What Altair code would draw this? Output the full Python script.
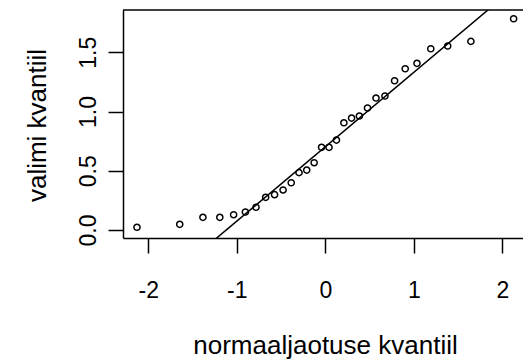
import altair as alt
import pandas as pd

# theoretical normal quantiles (n = 30)
theoretical = [-2.128, -1.645, -1.383, -1.192, -1.036, -0.903, -0.783, -0.674,
               -0.573, -0.477, -0.385, -0.297, -0.210, -0.126, -0.042,
               0.042, 0.126, 0.210, 0.297, 0.385, 0.477, 0.573, 0.674,
               0.783, 0.903, 1.036, 1.192, 1.383, 1.645, 2.128]
# sample quantiles
sample = [0.023, 0.048, 0.107, 0.107, 0.129, 0.152, 0.192, 0.276, 0.298, 0.338,
          0.399, 0.484, 0.506, 0.568, 0.698, 0.698, 0.759, 0.905, 0.945, 0.962,
          1.030, 1.114, 1.131, 1.260, 1.361, 1.407, 1.530, 1.553, 1.592, 1.783]

# reference line (qqline)
line_intercept = 0.703
line_slope = 0.628

x_ticks = [-2, -1, 0, 1, 2]
y_ticks = [0.0, 0.5, 1.0, 1.5]

x_domain = [-2.286, 2.234]
y_domain = [-0.0675, 1.857]

W, H = 400, 228
FONT = "Liberation Sans"
LABEL_SIZE = 23
TITLE_SIZE = 26

pts = pd.DataFrame({"q": theoretical, "s": sample})
line_df = pd.DataFrame({"q": x_domain,
                        "s": [line_intercept + line_slope * v for v in x_domain]})

xscale = alt.Scale(domain=x_domain, nice=False, zero=False)
yscale = alt.Scale(domain=y_domain, nice=False, zero=False)

xaxis = alt.Axis(values=x_ticks, title="normaaljaotuse kvantiil", grid=False,
                 domainColor="black", domainWidth=1.5, tickColor="black",
                 tickWidth=1.5, tickSize=15, labelPadding=44,
                 labelBaseline="alphabetic", labelFont=FONT, labelFontSize=LABEL_SIZE,
                 labelColor="black", labelFlush=False, labelOverlap=False,
                 labelExpr="'' + datum.value",
                 titleFont=FONT, titleFontSize=TITLE_SIZE, titleFontWeight="normal",
                 titleColor="black", titleBaseline="alphabetic", titleY=115,
                 titleX=W / 2 + 2, titleAlign="center")
yaxis = alt.Axis(values=y_ticks, title="valimi kvantiil", grid=False,
                 domainColor="black", domainWidth=1.5, tickColor="black",
                 tickWidth=1.5, tickSize=15, labelPadding=13, labelAngle=270,
                 labelAlign="center", labelBaseline="alphabetic",
                 labelFont=FONT, labelFontSize=LABEL_SIZE, labelColor="black",
                 labelFlush=False, labelOverlap=False, format=".1f",
                 titleFont=FONT, titleFontSize=TITLE_SIZE, titleFontWeight="normal",
                 titleColor="black", titleAngle=270, titleBaseline="alphabetic",
                 titleX=-78, titleY=H / 2 + 1, titleAlign="center")

points = alt.Chart(pts).mark_point(filled=False, color="black", size=38,
                                   strokeWidth=1.5, opacity=1).encode(
    x=alt.X("q:Q", scale=xscale, axis=xaxis),
    y=alt.Y("s:Q", scale=yscale, axis=yaxis),
)

ref = alt.Chart(line_df).mark_line(color="black", strokeWidth=1.5, clip=True).encode(
    x=alt.X("q:Q", scale=xscale),
    y=alt.Y("s:Q", scale=yscale),
)

top_border = alt.Chart(pd.DataFrame({"a": [0]})).mark_rule(
    color="black", strokeWidth=1.5).encode(
    x=alt.value(0), x2=alt.value(W), y=alt.value(0)
)

chart = alt.layer(points, ref, top_border).properties(
    width=W, height=H,
    autosize=alt.AutoSizeParams(type="none"),
    padding={"left": 123, "top": 10, "right": 0, "bottom": 125},
    background="white",
).configure_view(stroke=None)

chart.save("out.html", embed_options={"renderer": "svg", "actions": False})
